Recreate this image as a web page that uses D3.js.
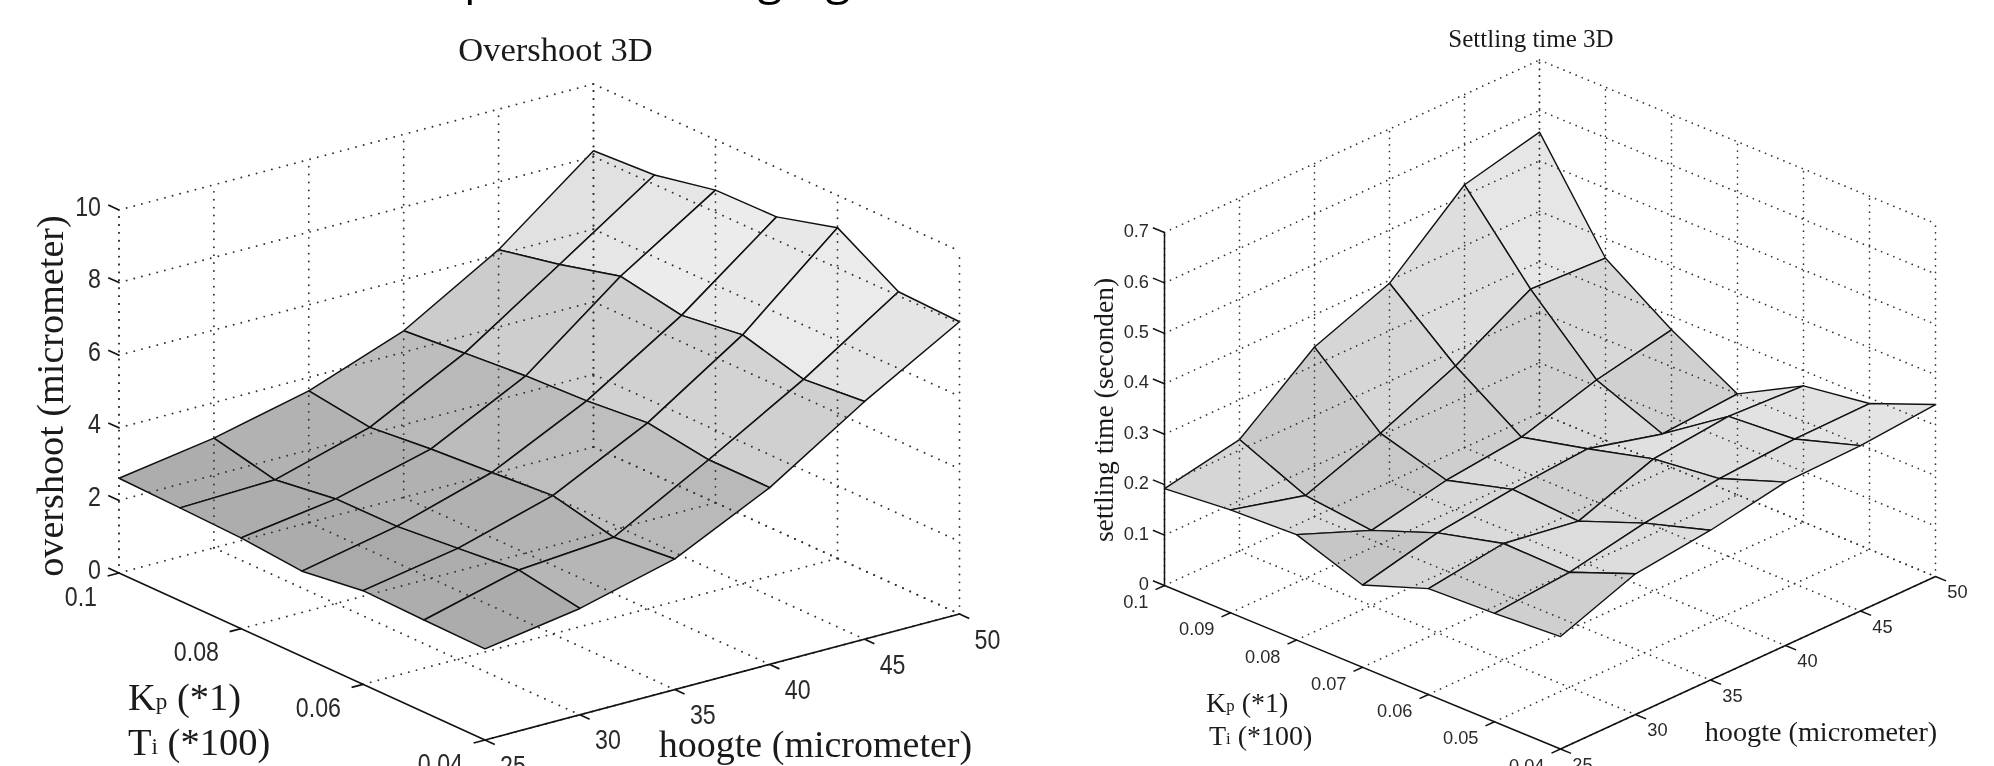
<!DOCTYPE html>
<html><head><meta charset="utf-8">
<script src="https://cdn.jsdelivr.net/npm/d3@7"></script>
<style>html,body{margin:0;padding:0;background:#fff;overflow:hidden}svg{display:block;filter:blur(.45px)}</style>
</head><body><svg id="c" width="1994" height="766"></svg>
<script>
const hoogte=[25,30,35,40,45,50];
const kpValues=[0.1,0.09,0.08,0.07,0.06,0.05,0.04];
const overshootZTicks=[0,2,4,6,8,10];
const overshootKTicks=[0.1,0.08,0.06,0.04];
const settlingZTicks=[0,0.1,0.2,0.3,0.4,0.5,0.6,0.7];
const settlingKTicks=[0.1,0.09,0.08,0.07,0.06,0.05,0.04];
// rows: hoogte 25..50, columns: Kp 0.1..0.04
const overshoot=[
[2.61,2.56,2.50,2.35,2.58,2.54,2.51],
[3.02,2.64,2.88,2.89,3.05,3.22,2.93],
[3.63,3.39,3.56,3.68,3.81,3.43,3.60],
[4.59,4.74,4.88,4.96,5.12,4.87,4.87],
[6.13,6.49,6.93,6.62,6.85,6.39,6.55],
[8.16,8.26,8.61,8.64,9.11,8.11,8.05]];
const settling=[
[.192,.204,.209,.163,.210,.215,.223],
[.221,.164,.149,.198,.231,.228,.279],
[.336,.219,.180,.216,.207,.257,.297],
[.394,.284,.197,.228,.262,.277,.324],
[.521,.368,.242,.189,.278,.287,.328],
[.557,.361,.273,.200,.270,.289,.341]];
// face greys (rows: hoogte cell, cols: Kp cell)
const settlingShades=[
[214,218,198,214,206,207],
[202,200,216,218,220,221],
[214,206,218,208,216,221],
[222,208,218,224,222,224],
[230,216,208,226,226,228]];
const overshootShadeZ=[2.5,3,3.7,4.8,6.5];
const overshootShadeG=[172,178,190,207,230];

const svg=d3.select("#c");
const SANS="'Liberation Sans',Arial,sans-serif", SERIF="'Liberation Serif','Times New Roman',serif";

function panel(o){
  const hD=d3.extent(hoogte), kD=[0.1,0.04];
  const hx=d3.scaleLinear().domain(hD).range([0,o.back[0]-o.left[0]]);
  const hy=d3.scaleLinear().domain(hD).range([0,o.back[1]-o.left[1]]);
  const kx=d3.scaleLinear().domain(kD).range([0,o.front[0]-o.left[0]]);
  const ky=d3.scaleLinear().domain(kD).range([0,o.front[1]-o.left[1]]);
  const zy=d3.scaleLinear().domain([0,o.zMax]).range([0,-o.zPx]);
  const P=(h,k,z)=>[o.left[0]+hx(h)+kx(k), o.left[1]+hy(h)+ky(k)+zy(z)];
  const g=svg.append("g");
  const line=d3.line();
  // surface, back to front
  const faces=[];
  for(let i=0;i<hoogte.length-1;i++)for(let j=0;j<kpValues.length-1;j++){
    faces.push({i,j,d:ky(kpValues[j])+hy(hoogte[i])});
  }
  faces.sort((a,b)=>a.d-b.d);
  g.append("g").selectAll("path").data(faces).join("path")
    .attr("d",f=>{const {i,j}=f;return line([
      P(hoogte[i],kpValues[j],o.values[i][j]),
      P(hoogte[i+1],kpValues[j],o.values[i+1][j]),
      P(hoogte[i+1],kpValues[j+1],o.values[i+1][j+1]),
      P(hoogte[i],kpValues[j+1],o.values[i][j+1])])+"Z";})
    .attr("fill",f=>{const v=o.shade(f.i,f.j);return d3.rgb(v,v,v);})
    .attr("stroke","#111").attr("stroke-width",o.meshW).attr("stroke-linejoin","round");
  // dotted box grid
  const dots=g.append("g").attr("fill","none").attr("stroke","#333").attr("stroke-width",o.dotW)
    .attr("stroke-linecap","round").attr("stroke-dasharray",o.dash);
  const seg=(a,b)=>dots.append("path").attr("d",line([a,b]));
  const h0=hD[0],h1=hD[1],k0=kD[0],k1=kD[1],zT=o.zTicks;
  zT.forEach(z=>{ seg(P(h0,k0,z),P(h1,k0,z)); seg(P(h1,k0,z),P(h1,k1,z)); });
  hoogte.forEach(h=>{ seg(P(h,k0,0),P(h,k0,o.zMax)); if(h>h0) seg(P(h,k0,0),P(h,k1,0)); });
  o.kTicks.forEach(k=>{ seg(P(h1,k,0),P(h1,k,o.zMax)); if(k<k0) seg(P(h0,k,0),P(h1,k,0)); });
  if(o.zDotted) seg(P(h0,k0,0),P(h0,k0,o.zMax));
  // axes
  const ax=g.append("g").attr("fill","none").attr("stroke","#111").attr("stroke-width",o.axisW);
  const aseg=(a,b)=>ax.append("path").attr("d",line([a,b]));
  aseg(P(h0,k0,0),P(h0,k1,0)); aseg(P(h0,k1,0),P(h1,k1,0));
  if(!o.zDotted) aseg(P(h0,k0,0),P(h0,k0,o.zMax));
  const th=0.6, tickK=(kD[0]-kD[1])/6*0.16;
  o.kTicks.forEach(k=>aseg(P(h0,k,0),P(h0-th,k,0)));
  hoogte.forEach(h=>aseg(P(h,k1,0),P(h,k1-tickK,0)));
  zT.forEach(z=>aseg(P(h0,k0,z),P(h0,k0+tickK*1.1,z)));
  // tick text
  const tx=(x,y,s,anchor)=>g.append("text").attr("transform",`translate(${x},${y}) scale(${o.tickSx},1)`)
     .attr("font-family",SANS).attr("font-size",o.tickFs)
     .attr("fill","#2a2a2a").attr("text-anchor",anchor).attr("dominant-baseline","central").text(s);
  zT.forEach(z=>{const p=P(h0,k0,z);tx(o.zLabelX,p[1]+o.zLabelDy,o.zFmt(z),"end");});
  o.kTicks.forEach(k=>{const p=P(h0,k,0);tx(p[0]+o.kOff[0],p[1]+o.kOff[1],d3.format("~g")(k),"end");});
  hoogte.forEach(h=>{const p=P(h,k1,0);tx(p[0]+o.hOff[0],p[1]+o.hOff[1],h,"middle");});
  const serif=(x,y,fs,anchor)=>g.append("text").attr("x",x).attr("y",y).attr("font-family",SERIF).attr("font-size",fs)
     .attr("fill","#1a1a1a").attr("text-anchor",anchor).attr("dominant-baseline","central");
  serif(o.title[0],o.title[1],o.title[2],"middle").text(o.title[3]);
  serif(o.hLab[0],o.hLab[1],o.hLab[2],"middle").text("hoogte (micrometer)");
  serif(0,0,o.zLab[2],"middle").attr("transform",`translate(${o.zLab[0]},${o.zLab[1]}) rotate(-90)`).text(o.zLab[3]);
  [[o.kLab,"K","p"," (*1)"],[o.tLab,"T","i"," (*100)"]].forEach(([q,a,b,c])=>{
    const t=serif(q[0],q[1],q[2],"start");
    t.append("tspan").text(a);
    t.append("tspan").attr("font-size",q[2]*0.6).attr("dy",q[2]*0.1).text(b);
    t.append("tspan").attr("dy",-q[2]*0.1).text(c);
  });
}
const ovG=d3.scaleLinear().domain(overshootShadeZ).range(overshootShadeG);
panel({left:[119,573],back:[593.5,447],front:[485,740],zMax:10,zPx:363,values:overshoot,
  zTicks:overshootZTicks,kTicks:overshootKTicks,zDotted:true,zFmt:d=>d,
  shade:(i,j)=>ovG(overshoot[i][j]),meshW:1.5,dotW:1.9,dash:"0.01 7.9",axisW:1.7,
  tickFs:27,tickSx:0.86,zLabelX:101,zLabelDy:-4,kOff:[-22,23],hOff:[28,25],
  title:[555.5,49,34.5,"Overshoot 3D"],hLab:[815.5,744,38],zLab:[50,396,38.2,"overshoot (micrometer)"],
  kLab:[128,697,38.5],tLab:[128,742,38.5]});
panel({left:[1164.5,585.5],back:[1539.5,413],front:[1560.5,749],zMax:0.7,zPx:353,values:settling,
  zTicks:settlingZTicks,kTicks:settlingKTicks,zDotted:false,zFmt:d=>d3.format("~g")(d),
  shade:(i,j)=>settlingShades[i][j],meshW:1.4,dotW:1.7,dash:"0.01 6.6",axisW:1.5,
  tickFs:19,tickSx:0.96,zLabelX:1149,zLabelDy:-2,kOff:[-16,16],hOff:[22,15],
  title:[1531,38,25,"Settling time 3D"],hLab:[1821,731,28.2],zLab:[1103,410,27.5,"settling time (seconden)"],
  kLab:[1206,702,28],tLab:[1209,735,28]});
// slide title above the crop: only its descenders reach the picture
[["p",478],["g",770],["g",838]].forEach(([s,x])=>svg.append("text").attr("x",x).attr("y",-6).attr("text-anchor","middle")
  .attr("font-family","'Open Sans',sans-serif").attr("font-size",46).attr("fill","#000").text(s));
</script></body></html>
